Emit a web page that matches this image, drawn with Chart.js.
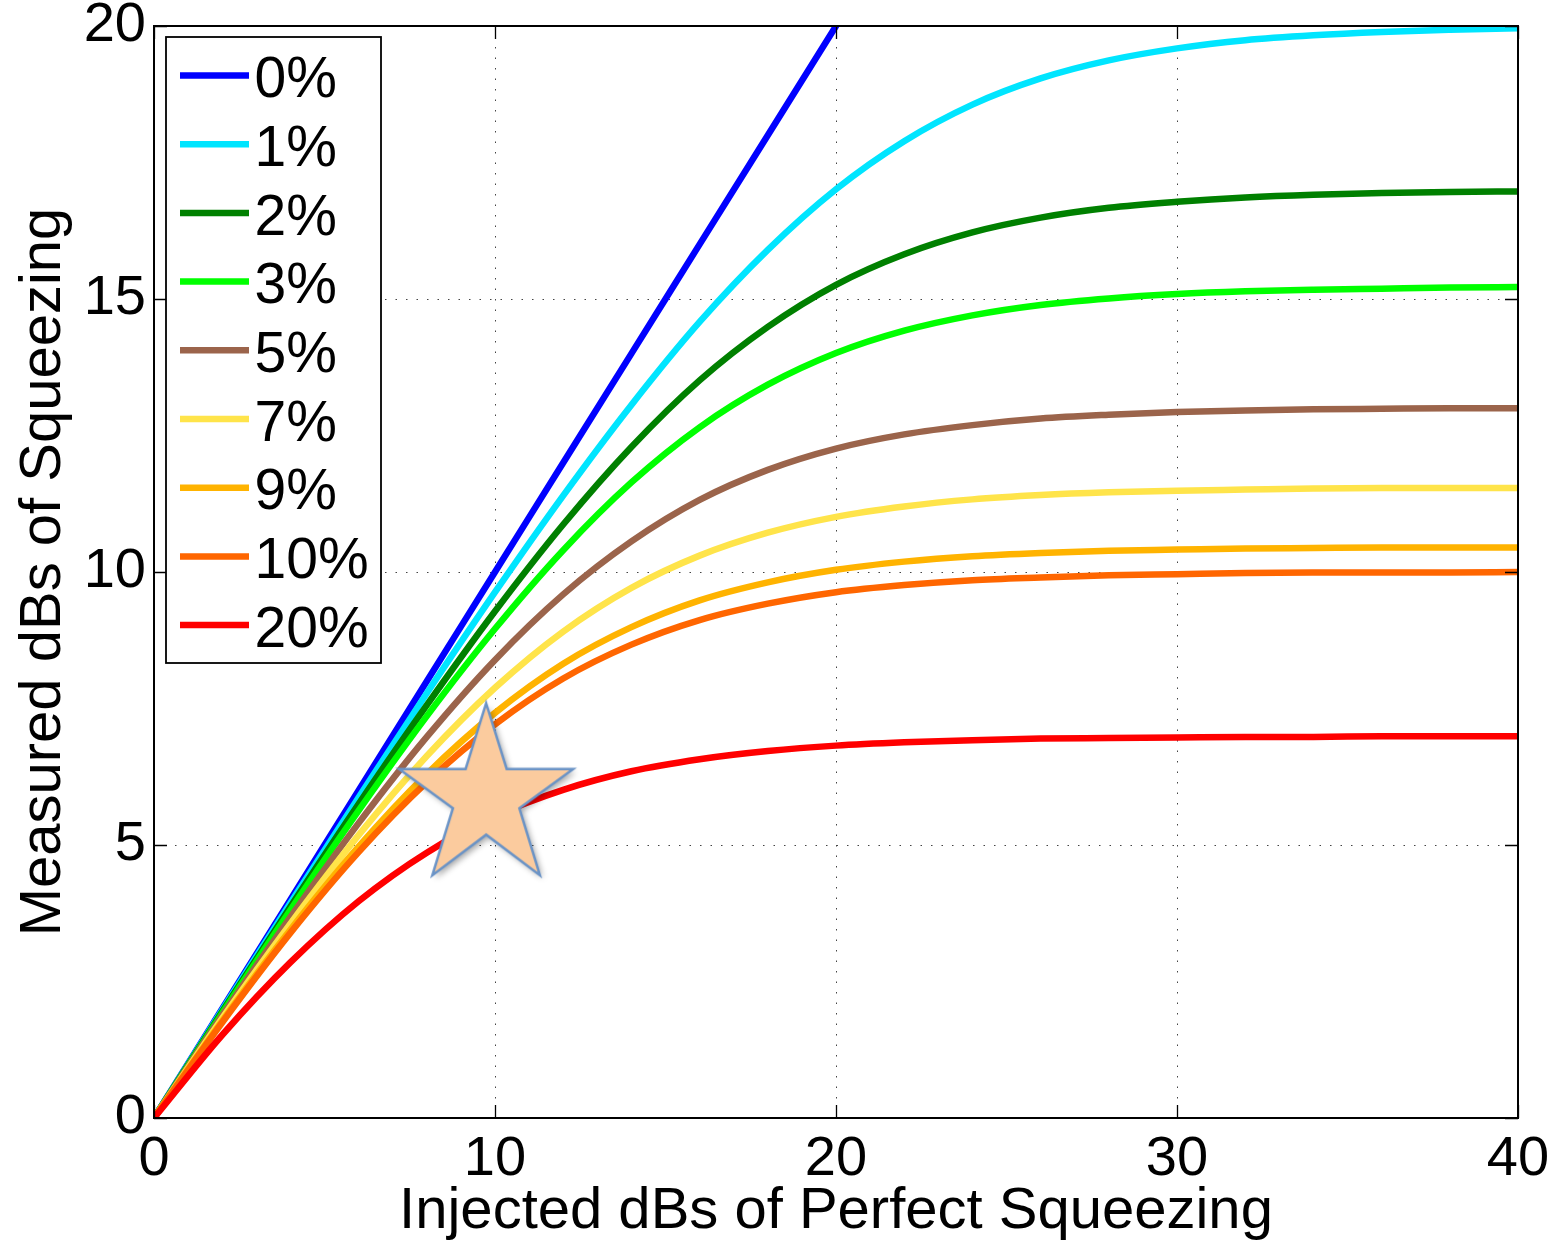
<!DOCTYPE html>
<html>
<head>
<meta charset="utf-8">
<script src="https://cdn.jsdelivr.net/npm/chart.js@4.4.1/dist/chart.umd.min.js"></script>
<style>
  html, body { margin: 0; padding: 0; background: #fff; }
  #wrap { width: 1560px; height: 1244px; }
</style>
</head>
<body>
<div id="wrap"><canvas id="c" width="1560" height="1244"></canvas></div>
<script>
// ---- data ----
const injected = [0,2,4,6,8,10,12,14,16,18,20,22,24,26,28,30,32,34,36,38,40];
const lossLabels = ['0%','1%','2%','3%','5%','7%','9%','10%','20%'];
const loss0  = [0,2,4,6,8,10,12,14,16,18,20,null,null,null,null,null,null,null,null,null,null];
const loss1  = [0,1.98,3.94,5.87,7.78,9.63,11.40,13.06,14.58,15.90,17.01,17.89,18.56,19.04,19.37,19.59,19.74,19.83,19.89,19.93,19.96];
const loss2  = [0,1.95,3.87,5.75,7.56,9.28,10.87,12.29,13.51,14.49,15.26,15.82,16.22,16.49,16.67,16.78,16.86,16.91,16.94,16.96,16.97];
const loss3  = [0,1.92,3.81,5.63,7.36,8.96,10.40,11.64,12.65,13.43,14.01,14.42,14.70,14.89,15.01,15.09,15.14,15.17,15.19,15.21,15.22];
const loss5  = [0,1.88,3.68,5.40,6.98,8.39,9.59,10.56,11.32,11.87,12.26,12.52,12.69,12.81,12.88,12.93,12.96,12.98,12.99,13.00,13.00];
const loss7  = [0,1.83,3.56,5.18,6.63,7.88,8.91,9.71,10.30,10.72,11.01,11.20,11.33,11.41,11.46,11.49,11.51,11.53,11.54,11.54,11.54];
const loss9  = [0,1.78,3.45,4.97,6.30,7.42,8.32,8.99,9.48,9.81,10.04,10.19,10.29,10.35,10.39,10.41,10.43,10.44,10.45,10.45,10.45];
const loss10 = [0,1.75,3.39,4.87,6.15,7.21,8.05,8.67,9.12,9.42,9.63,9.76,9.85,9.90,9.94,9.96,9.98,9.99,9.99,9.99,10.00];
const loss20 = [0,1.52,2.85,3.97,4.86,5.53,6.01,6.35,6.57,6.72,6.82,6.88,6.92,6.95,6.96,6.97,6.98,6.98,6.99,6.99,6.99];
const xTicks = [0,10,20,30,40];
const yTicks = [0,5,10,15,20];
const starAt = [9.74, 6.02];
const xTitle = 'Injected dBs of Perfect Squeezing';
const yTitle = 'Measured dBs of Squeezing';

// ---- styles ----
const seriesValues = [loss0, loss1, loss2, loss3, loss5, loss7, loss9, loss10, loss20];
const colors = ['#0000FF','#00E5FF','#008000','#00FF00','#9B644B','#FFE44A','#FFB300','#FF6600','#FF0000'];
const FONT = '"Liberation Sans", Arial, Helvetica, sans-serif';

// star image used as point style
function makeStar(w, h) {
  const pad = 14;
  const cv = document.createElement('canvas');
  cv.width = w + 2 * pad; cv.height = h + 2 * pad;
  const g = cv.getContext('2d');
  const pts = [[0.5,0],[0.618,0.382],[1,0.382],[0.691,0.61],[0.809,1],[0.5,0.764],[0.191,1],[0.309,0.61],[0,0.382],[0.382,0.382]];
  g.beginPath();
  pts.forEach((p, i) => {
    const px = pad + p[0] * w, py = pad + p[1] * h;
    if (i === 0) g.moveTo(px, py); else g.lineTo(px, py);
  });
  g.closePath();
  g.save();
  g.shadowColor = 'rgba(0,0,0,0.35)';
  g.shadowBlur = 6; g.shadowOffsetX = 3; g.shadowOffsetY = 3;
  g.fillStyle = '#FBCB9E';
  g.fill();
  g.restore();
  g.lineWidth = 2.5;
  g.strokeStyle = '#6A93C6';
  g.lineJoin = 'miter';
  g.stroke();
  return cv;
}

const datasets = seriesValues.map((vals, i) => ({
  label: lossLabels[i],
  data: injected.map((x, j) => ({x: x, y: vals[j]})),
  borderColor: colors[i],
  backgroundColor: colors[i],
  borderWidth: 6.5,
  borderCapStyle: 'round',
  borderJoinStyle: 'round',
  pointRadius: 0,
  cubicInterpolationMode: 'monotone',
  spanGaps: false,
  fill: false,
  order: 20 - i
}));
datasets.push({
  label: '',
  isStar: true,
  data: [{x: starAt[0], y: starAt[1]}],
  showLine: false,
  pointStyle: makeStar(174, 172),
  pointRadius: 5,
  order: 0
});

const framePlugin = {
  id: 'frame',
  afterDatasetsDraw(chart) {
    const {ctx, chartArea: a, scales} = chart;
    ctx.save();
    ctx.strokeStyle = '#000';
    ctx.lineWidth = 1.3;
    const tl = 13;
    ctx.beginPath();
    xTicks.forEach(v => {
      const px = Math.round(scales.x.getPixelForValue(v)) + 0.5;
      ctx.moveTo(px, a.bottom); ctx.lineTo(px, a.bottom - tl);
      ctx.moveTo(px, a.top); ctx.lineTo(px, a.top + tl);
    });
    yTicks.forEach(v => {
      const py = Math.round(scales.y.getPixelForValue(v)) + 0.5;
      ctx.moveTo(a.left, py); ctx.lineTo(a.left + tl, py);
      ctx.moveTo(a.right, py); ctx.lineTo(a.right - tl, py);
    });
    ctx.stroke();
    ctx.lineWidth = 2;
    ctx.strokeRect(a.left, a.top, a.right - a.left, a.bottom - a.top);
    ctx.restore();
  }
};

const legendPlugin = {
  id: 'boxLegend',
  afterDraw(chart) {
    const {ctx, chartArea: a} = chart;
    const x0 = a.left + 12, y0 = a.top + 11, w = 215, h = 626;
    ctx.save();
    ctx.fillStyle = '#fff';
    ctx.fillRect(x0, y0, w, h);
    ctx.strokeStyle = '#000';
    ctx.lineWidth = 1.8;
    ctx.strokeRect(x0, y0, w, h);
    ctx.font = '57px ' + FONT;
    ctx.textBaseline = 'alphabetic';
    ctx.textAlign = 'left';
    let k = 0;
    chart.data.datasets.forEach(ds => {
      if (ds.isStar) return;
      const y = y0 + 38.5 + k * 68.7;
      ctx.strokeStyle = ds.borderColor;
      ctx.lineWidth = 6.5;
      ctx.lineCap = 'butt';
      ctx.beginPath();
      ctx.moveTo(x0 + 14, y); ctx.lineTo(x0 + 83, y);
      ctx.stroke();
      ctx.fillStyle = '#000';
      ctx.fillText(ds.label, x0 + 88.5, y + 21.6);
      k++;
    });
    ctx.restore();
  }
};

new Chart(document.getElementById('c'), {
  type: 'line',
  data: { datasets: datasets },
  options: {
    responsive: false,
    animation: false,
    events: [],
    devicePixelRatio: 1,
    layout: { autoPadding: false, padding: { left: 0, top: 26, right: 42, bottom: 0 } },
    plugins: { legend: { display: false }, tooltip: { enabled: false } },
    scales: {
      x: {
        type: 'linear', min: 0, max: 40,
        afterFit(s) { s.height = 126; s.paddingLeft = 0; s.paddingRight = 0; },
        afterBuildTicks(s) { s.ticks = xTicks.map(v => ({value: v})); },
        ticks: { color: '#000', padding: 8, font: { family: FONT, size: 56 }, maxRotation: 0 },
        grid: { color: '#444', lineWidth: 1, drawTicks: false },
        border: { display: false, dash: [1.5, 9] },
        title: { display: true, text: xTitle, color: '#000', font: { family: FONT, size: 58, lineHeight: 1.1 }, padding: { top: 0, bottom: 0 } }
      },
      y: {
        type: 'linear', min: 0, max: 20,
        afterFit(s) { s.width = 154; s.paddingTop = 0; s.paddingBottom = 0; },
        afterBuildTicks(s) { s.ticks = yTicks.map(v => ({value: v})); },
        ticks: { color: '#000', padding: 8, font: { family: FONT, size: 56 } },
        grid: { color: '#444', lineWidth: 1, drawTicks: false },
        border: { display: false, dash: [1.5, 9] },
        title: { display: true, text: yTitle, color: '#000', font: { family: FONT, size: 58 }, padding: { top: 9, bottom: 0 } }
      }
    }
  },
  plugins: [framePlugin, legendPlugin]
});
</script>
</body>
</html>
